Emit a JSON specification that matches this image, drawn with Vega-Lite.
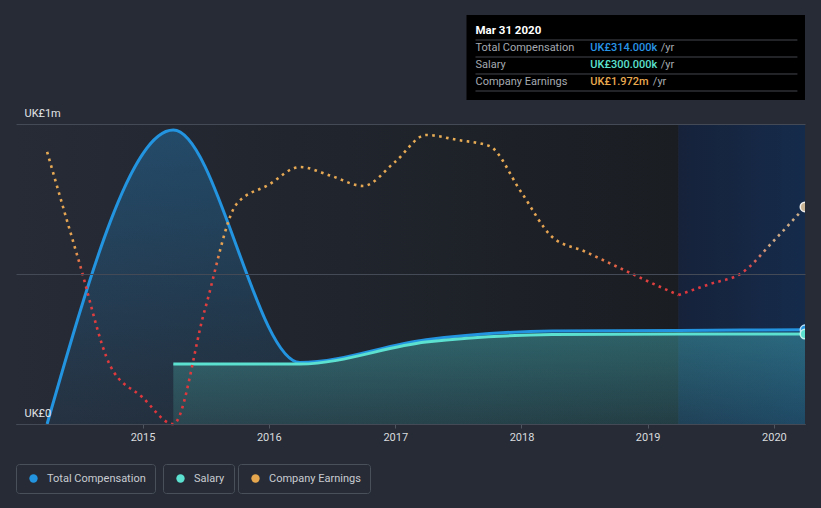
{
  "$schema": "https://vega.github.io/schema/vega-lite/v6.json",
  "width": 789,
  "height": 300,
  "autosize": {"type": "none"},
  "padding": {"left": 16, "top": 124, "right": 16, "bottom": 84},
  "background": "#262b36",
  "config": {
    "font": "Roboto",
    "view": {"stroke": null},
    "axisX": {
      "domainColor": "#50565f",
      "tickColor": "#50565f",
      "tickSize": 4,
      "labelColor": "#d9dbde",
      "labelFontSize": 11,
      "labelPadding": 3,
      "grid": false,
      "zindex": 1
    },
    "legend": {
      "strokeColor": "#4a505a",
      "cornerRadius": 3,
      "padding": 9,
      "symbolType": "circle",
      "symbolSize": 70,
      "symbolOpacity": 1,
      "symbolStrokeWidth": 0,
      "symbolOffset": 3,
      "labelOffset": 8,
      "labelFontSize": 11,
      "labelColor": "#c9ccd1",
      "labelFont": "Roboto"
    }
  },
  "datasets": {
    "comp": [
      {"date": "2014-03-31", "v": 0},
      {"date": "2015-03-31", "v": 980000},
      {"date": "2016-03-31", "v": 205000},
      {"date": "2017-03-31", "v": 281000},
      {"date": "2018-03-31", "v": 310000},
      {"date": "2019-03-31", "v": 312000},
      {"date": "2020-03-31", "v": 314000}
    ],
    "salary": [
      {"date": "2015-03-31", "v": 200000},
      {"date": "2016-03-31", "v": 200000},
      {"date": "2017-03-31", "v": 273000},
      {"date": "2018-03-31", "v": 298000},
      {"date": "2019-03-31", "v": 300000},
      {"date": "2020-03-31", "v": 300000}
    ],
    "earnings": [
      {"date": "2014-03-31", "e": 2.472},
      {"date": "2014-06-30", "e": 1.49},
      {"date": "2014-09-30", "e": 0.527},
      {"date": "2014-12-31", "e": 0.245},
      {"date": "2015-03-31", "e": 0.0},
      {"date": "2015-06-30", "e": 1.036},
      {"date": "2015-09-30", "e": 1.999},
      {"date": "2015-12-31", "e": 2.172},
      {"date": "2016-03-31", "e": 2.335},
      {"date": "2016-06-30", "e": 2.254},
      {"date": "2016-09-30", "e": 2.163},
      {"date": "2016-12-31", "e": 2.381},
      {"date": "2017-03-31", "e": 2.626},
      {"date": "2017-06-30", "e": 2.581},
      {"date": "2017-09-30", "e": 2.526},
      {"date": "2017-12-31", "e": 2.108},
      {"date": "2018-03-31", "e": 1.699},
      {"date": "2018-06-30", "e": 1.572},
      {"date": "2018-09-30", "e": 1.436},
      {"date": "2018-12-31", "e": 1.299},
      {"date": "2019-03-31", "e": 1.172},
      {"date": "2019-06-30", "e": 1.272},
      {"date": "2019-09-30", "e": 1.372},
      {"date": "2019-12-31", "e": 1.663},
      {"date": "2020-03-31", "e": 1.972}
    ]
  },
  "layer": [
    {
      "data": {"values": [{"region": "history"}]},
      "mark": {
        "type": "rect",
        "fill": {
          "gradient": "linear", "x1": 0, "y1": 0, "x2": 1, "y2": 0,
          "stops": [
            {"offset": 0, "color": "#262b36"},
            {"offset": 1, "color": "#1a1d22"}
          ]
        }
      },
      "encoding": {
        "x": {
          "datum": {"year": 2013, "month": 12, "date": 31, "utc": true},
          "type": "temporal",
          "scale": {
            "type": "utc",
            "domain": [
              {"year": 2013, "month": 12, "date": 31, "utc": true},
              {"year": 2020, "month": 3, "date": 31, "utc": true}
            ]
          },
          "axis": {
            "title": null,
            "format": "%Y",
            "values": [
              {"year": 2015, "month": 1, "date": 1, "utc": true},
              {"year": 2016, "month": 1, "date": 1, "utc": true},
              {"year": 2017, "month": 1, "date": 1, "utc": true},
              {"year": 2018, "month": 1, "date": 1, "utc": true},
              {"year": 2019, "month": 1, "date": 1, "utc": true},
              {"year": 2020, "month": 1, "date": 1, "utc": true}
            ]
          }
        },
        "x2": {"datum": {"year": 2019, "month": 3, "date": 31, "utc": true}}
      }
    },
    {
      "data": {"values": [{"region": "last year"}]},
      "mark": {
        "type": "rect",
        "fill": {
          "gradient": "linear", "x1": 0, "y1": 0, "x2": 1, "y2": 0,
          "stops": [
            {"offset": 0, "color": "#16223a"},
            {"offset": 1, "color": "#152b4b"}
          ]
        }
      },
      "encoding": {
        "x": {"datum": {"year": 2019, "month": 3, "date": 31, "utc": true}, "type": "temporal"},
        "x2": {"datum": {"year": 2020, "month": 3, "date": 31, "utc": true}}
      }
    },
    {
      "layer": [
        {
          "data": {"name": "comp"},
          "mark": {
            "type": "area",
            "interpolate": "monotone",
            "color": {
              "gradient": "linear", "x1": 0, "y1": 0, "x2": 0, "y2": 1,
              "stops": [
                {"offset": 0, "color": "rgba(35,148,223,0.32)"},
                {"offset": 1, "color": "rgba(35,148,223,0.07)"}
              ]
            }
          },
          "encoding": {
            "x": {"field": "date", "type": "temporal"},
            "y": {
              "field": "v", "type": "quantitative",
              "scale": {"domain": [0, 1000000], "nice": false},
              "axis": {
                "title": null,
                "values": [0, 500000, 1000000],
                "labelExpr": "datum.value == 0 ? 'UK£0' : (datum.value == 1000000 ? 'UK£1m' : '')",
                "domain": false,
                "ticks": false,
                "grid": true,
                "gridColor": "#454b56",
                "gridWidth": 1,
                "labelAlign": "left",
                "labelBaseline": "alphabetic",
                "labelPadding": -8,
                "labelOffset": -8,
                "labelColor": "#e2e4e7",
                "labelFontSize": 11,
                "zindex": 1
              }
            }
          }
        },
        {
          "data": {"name": "salary"},
          "mark": {
            "type": "area",
            "interpolate": "monotone",
            "color": {
              "gradient": "linear", "x1": 0, "y1": 0, "x2": 0, "y2": 1,
              "stops": [
                {"offset": 0, "color": "rgba(92,224,207,0.28)"},
                {"offset": 1, "color": "rgba(92,224,207,0.13)"}
              ]
            }
          },
          "encoding": {
            "x": {"field": "date", "type": "temporal"},
            "y": {"field": "v", "type": "quantitative"}
          }
        },
        {
          "data": {"name": "comp"},
          "mark": {"type": "line", "interpolate": "monotone", "color": "#2394df", "strokeWidth": 3},
          "encoding": {
            "x": {"field": "date", "type": "temporal"},
            "y": {"field": "v", "type": "quantitative"}
          }
        },
        {
          "data": {"name": "salary"},
          "mark": {"type": "line", "interpolate": "monotone", "color": "#5ce0cf", "strokeWidth": 3},
          "encoding": {
            "x": {"field": "date", "type": "temporal"},
            "y": {"field": "v", "type": "quantitative"}
          }
        },
        {
          "data": {"name": "comp"},
          "transform": [{"filter": "time(datum.date) == utc(2020, 2, 31)"}],
          "mark": {"type": "point", "filled": true, "size": 90, "stroke": "#b9e0fa", "strokeWidth": 1.5, "opacity": 1, "clip": true},
          "encoding": {
            "x": {"field": "date", "type": "temporal"},
            "y": {"field": "v", "type": "quantitative"},
            "color": {
              "datum": "Total Compensation",
              "scale": {"range": ["#2394df"]},
              "legend": {"title": null, "orient": "none", "legendX": 0, "legendY": 340}
            }
          }
        },
        {
          "data": {"name": "salary"},
          "transform": [{"filter": "time(datum.date) == utc(2020, 2, 31)"}],
          "mark": {"type": "point", "filled": true, "size": 90, "stroke": "#c6f4ee", "strokeWidth": 1.5, "opacity": 1, "clip": true},
          "encoding": {
            "x": {"field": "date", "type": "temporal"},
            "y": {"field": "v", "type": "quantitative"},
            "color": {
              "datum": "Salary",
              "scale": {"range": ["#5ce0cf"]},
              "legend": {"title": null, "orient": "none", "legendX": 147, "legendY": 340}
            }
          }
        }
      ],
      "resolve": {"scale": {"color": "independent"}, "legend": {"color": "independent"}}
    },
    {
      "layer": [
        {
          "data": {"name": "earnings"},
          "transform": [{"filter": "time(datum.date) <= utc(2019, 2, 31)"}],
          "mark": {
            "type": "line",
            "interpolate": "monotone",
            "strokeWidth": 2.6,
            "strokeDash": [2.6, 4.4],
            "stroke": {
              "gradient": "linear", "x1": 0, "y1": 0, "x2": 0, "y2": 1,
              "stops": [
                {"offset": 0, "color": "#e8ad55"},
                {"offset": 0.4, "color": "#e6a251"},
                {"offset": 0.48, "color": "#e0403f"},
                {"offset": 1, "color": "#e0353b"}
              ]
            }
          },
          "encoding": {
            "x": {"field": "date", "type": "temporal"},
            "y": {"field": "e", "type": "quantitative", "scale": {"domain": [0, 2.726], "nice": false, "zero": false}, "axis": null}
          }
        },
        {
          "data": {"name": "earnings"},
          "transform": [{"filter": "time(datum.date) >= utc(2019, 2, 31)"}],
          "mark": {
            "type": "line",
            "interpolate": "monotone",
            "strokeWidth": 2.6,
            "strokeDash": [2.6, 4.4],
            "stroke": {
              "gradient": "linear", "x1": 0, "y1": 0, "x2": 0, "y2": 1,
              "stops": [
                {"offset": 0, "color": "#cdb088"},
                {"offset": 0.45, "color": "#cfa682"},
                {"offset": 0.7, "color": "#dc4045"},
                {"offset": 1, "color": "#e0353b"}
              ]
            }
          },
          "encoding": {
            "x": {"field": "date", "type": "temporal"},
            "y": {"field": "e", "type": "quantitative", "axis": null}
          }
        },
        {
          "data": {"name": "earnings"},
          "transform": [{"filter": "time(datum.date) == utc(2020, 2, 31)"}],
          "mark": {"type": "point", "filled": true, "size": 90, "fill": "#c9b596", "stroke": "#eeeeee", "strokeWidth": 1.5, "opacity": 1, "clip": true},
          "encoding": {
            "x": {"field": "date", "type": "temporal"},
            "y": {"field": "e", "type": "quantitative", "axis": null}
          }
        },
        {
          "data": {"name": "earnings"},
          "transform": [{"filter": "time(datum.date) == utc(2020, 2, 31)"}],
          "mark": {"type": "point", "filled": true, "size": 10, "opacity": 0},
          "encoding": {
            "x": {"field": "date", "type": "temporal"},
            "y": {"field": "e", "type": "quantitative", "axis": null},
            "color": {
              "datum": "Company Earnings",
              "scale": {"range": ["#e5a64e"]},
              "legend": {"title": null, "orient": "none", "legendX": 222, "legendY": 340}
            }
          }
        }
      ]
    },
    {
      "layer": [
        {
          "data": {"values": [{"part": "box"}]},
          "mark": {"type": "rect", "fill": "#000000"},
          "encoding": {
            "x": {"datum": {"year": 2017, "month": 7, "date": 26, "utc": true}, "type": "temporal"},
            "x2": {"datum": {"year": 2020, "month": 3, "date": 31, "utc": true}},
            "y": {"datum": 1363333, "type": "quantitative", "scale": {"domain": [0, 1000000], "nice": false}, "axis": null},
            "y2": {"datum": 1080000}
          }
        },
        {
          "data": {"values": [{"sep": 1}, {"sep": 2}, {"sep": 3}, {"sep": 4}]},
          "layer": [
            {
              "transform": [{"filter": "datum.sep == 1"}],
              "mark": {"type": "rule", "stroke": "#44474e", "strokeWidth": 1},
              "encoding": {
                "x": {"datum": {"year": 2017, "month": 8, "date": 21, "utc": true}, "type": "temporal"},
                "x2": {"datum": {"year": 2020, "month": 3, "date": 9, "utc": true}},
                "y": {"datum": 1280000, "type": "quantitative", "axis": null}
              }
            },
            {
              "transform": [{"filter": "datum.sep == 2"}],
              "mark": {"type": "rule", "stroke": "#44474e", "strokeWidth": 1},
              "encoding": {
                "x": {"datum": {"year": 2017, "month": 8, "date": 21, "utc": true}, "type": "temporal"},
                "x2": {"datum": {"year": 2020, "month": 3, "date": 9, "utc": true}},
                "y": {"datum": 1223333, "type": "quantitative", "axis": null}
              }
            },
            {
              "transform": [{"filter": "datum.sep == 3"}],
              "mark": {"type": "rule", "stroke": "#44474e", "strokeWidth": 1},
              "encoding": {
                "x": {"datum": {"year": 2017, "month": 8, "date": 21, "utc": true}, "type": "temporal"},
                "x2": {"datum": {"year": 2020, "month": 3, "date": 9, "utc": true}},
                "y": {"datum": 1166667, "type": "quantitative", "axis": null}
              }
            },
            {
              "transform": [{"filter": "datum.sep == 4"}],
              "mark": {"type": "rule", "stroke": "#44474e", "strokeWidth": 1},
              "encoding": {
                "x": {"datum": {"year": 2017, "month": 8, "date": 21, "utc": true}, "type": "temporal"},
                "x2": {"datum": {"year": 2020, "month": 3, "date": 9, "utc": true}},
                "y": {"datum": 1110000, "type": "quantitative", "axis": null}
              }
            }
          ]
        },
        {
          "data": {"values": [{"title": "Mar 31 2020"}]},
          "mark": {"type": "text", "align": "left", "baseline": "middle", "fontSize": 11.5, "fontWeight": "bold", "color": "#ffffff"},
          "encoding": {
            "x": {"datum": {"year": 2017, "month": 8, "date": 21, "utc": true}, "type": "temporal"},
            "y": {"datum": 1310000, "type": "quantitative", "axis": null},
            "text": {"field": "title"}
          }
        },
        {
          "data": {"values": [{"name": "Total Compensation", "amount": "UK£314.000k", "unit": "/yr"}]},
          "encoding": {"y": {"datum": 1253333, "type": "quantitative", "axis": null}},
          "layer": [
            {"mark": {"type": "text", "align": "left", "baseline": "middle", "fontSize": 11, "color": "#a6aab0"},
             "encoding": {"x": {"datum": {"year": 2017, "month": 8, "date": 21, "utc": true}, "type": "temporal"}, "text": {"field": "name"}}},
            {"mark": {"type": "text", "align": "left", "baseline": "middle", "fontSize": 11, "fontWeight": 500, "color": "#2894e6"},
             "encoding": {"x": {"datum": {"year": 2018, "month": 7, "date": 19, "utc": true}, "type": "temporal"}, "text": {"field": "amount"}}},
            {"mark": {"type": "text", "align": "left", "baseline": "middle", "fontSize": 11, "color": "#a6aab0"},
             "encoding": {"x": {"datum": {"year": 2019, "month": 2, "date": 8, "utc": true}, "type": "temporal"}, "text": {"field": "unit"}}}
          ]
        },
        {
          "data": {"values": [{"name": "Salary", "amount": "UK£300.000k", "unit": "/yr"}]},
          "encoding": {"y": {"datum": 1196667, "type": "quantitative", "axis": null}},
          "layer": [
            {"mark": {"type": "text", "align": "left", "baseline": "middle", "fontSize": 11, "color": "#a6aab0"},
             "encoding": {"x": {"datum": {"year": 2017, "month": 8, "date": 21, "utc": true}, "type": "temporal"}, "text": {"field": "name"}}},
            {"mark": {"type": "text", "align": "left", "baseline": "middle", "fontSize": 11, "fontWeight": 500, "color": "#5ce0cf"},
             "encoding": {"x": {"datum": {"year": 2018, "month": 7, "date": 19, "utc": true}, "type": "temporal"}, "text": {"field": "amount"}}},
            {"mark": {"type": "text", "align": "left", "baseline": "middle", "fontSize": 11, "color": "#a6aab0"},
             "encoding": {"x": {"datum": {"year": 2019, "month": 2, "date": 8, "utc": true}, "type": "temporal"}, "text": {"field": "unit"}}}
          ]
        },
        {
          "data": {"values": [{"name": "Company Earnings", "amount": "UK£1.972m", "unit": "/yr"}]},
          "encoding": {"y": {"datum": 1140000, "type": "quantitative", "axis": null}},
          "layer": [
            {"mark": {"type": "text", "align": "left", "baseline": "middle", "fontSize": 11, "color": "#a6aab0"},
             "encoding": {"x": {"datum": {"year": 2017, "month": 8, "date": 21, "utc": true}, "type": "temporal"}, "text": {"field": "name"}}},
            {"mark": {"type": "text", "align": "left", "baseline": "middle", "fontSize": 11, "fontWeight": 500, "color": "#e8a94f"},
             "encoding": {"x": {"datum": {"year": 2018, "month": 7, "date": 19, "utc": true}, "type": "temporal"}, "text": {"field": "amount"}}},
            {"mark": {"type": "text", "align": "left", "baseline": "middle", "fontSize": 11, "color": "#a6aab0"},
             "encoding": {"x": {"datum": {"year": 2019, "month": 1, "date": 16, "utc": true}, "type": "temporal"}, "text": {"field": "unit"}}}
          ]
        }
      ]
    }
  ],
  "resolve": {"scale": {"y": "independent", "color": "independent"}, "legend": {"color": "independent"}}
}
